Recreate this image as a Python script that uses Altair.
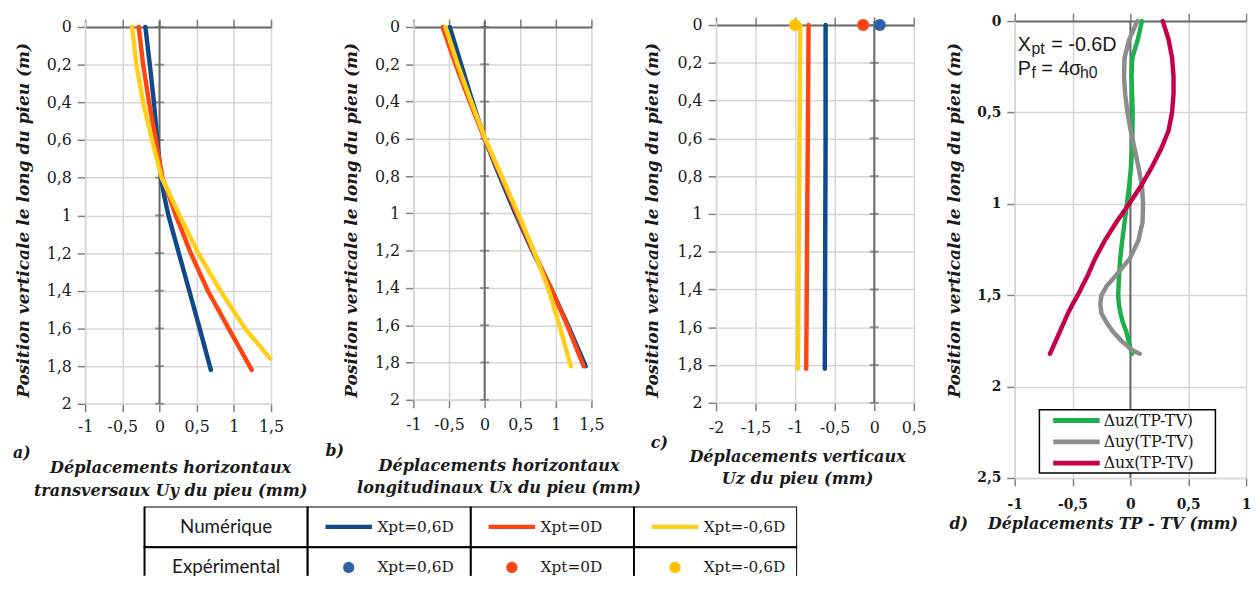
import altair as alt
import pandas as pd

# ---------------- data ----------------
SERIES = ["Xpt=0,6D", "Xpt=0D", "Xpt=-0,6D"]
LINE_COLORS = ["#114a8b", "#ff4612", "#ffcf1a"]
DOT_COLORS = ["#2e62a4", "#ff4612", "#ffc000"]

# a) transverse Uy
a_depth = [0, 0.2, 0.4, 0.6, 0.8, 0.9, 1.0, 1.2, 1.4, 1.6, 1.82]
a_uy_pos = [-0.19, -0.13, -0.075, -0.03, 0.02, 0.065, 0.12, 0.26, 0.40, 0.54, 0.69]
a_uy_zero = [-0.28, -0.22, -0.14, -0.05, 0.04, 0.13, 0.22, 0.42, 0.65, 0.93, 1.24]
a_depth_neg = [0, 0.2, 0.4, 0.6, 0.8, 0.9, 1.0, 1.2, 1.4, 1.6, 1.76]
a_uy_neg = [-0.37, -0.31, -0.22, -0.10, 0.03, 0.15, 0.27, 0.52, 0.82, 1.15, 1.49]

# b) longitudinal Ux
b_depth = [0, 0.2, 0.4, 0.6, 0.8, 1.0, 1.2, 1.4, 1.6, 1.82]
b_ux_pos = [-0.49, -0.33, -0.17, 0.0, 0.21, 0.43, 0.67, 0.93, 1.17, 1.42]
b_ux_zero = [-0.59, -0.41, -0.21, 0.0, 0.23, 0.45, 0.68, 0.93, 1.16, 1.39]
b_ux_neg = [-0.55, -0.38, -0.19, 0.01, 0.24, 0.47, 0.69, 0.89, 1.05, 1.21]

# c) vertical Uz
c_depth = [0, 0.6, 1.2, 1.82]
c_uz_pos = [-0.615, -0.615, -0.62, -0.625]
c_uz_zero = [-0.83, -0.84, -0.85, -0.86]
c_uz_neg = [-0.935, -0.945, -0.955, -0.965]
c_exp_depth = [0, 0, 0]
c_exp_uz = [0.07, -0.14, -1.0]

# d) TP - TV differences
D_SERIES = ["\u0394uz(TP-TV)", "\u0394uy(TP-TV)", "\u0394ux(TP-TV)"]
D_COLORS = ["#1db04a", "#8c8c8c", "#c4004a"]
d_depth = [0, 0.1, 0.2, 0.3, 0.4, 0.5, 0.6, 0.7, 0.8, 0.9, 1.0, 1.1, 1.2, 1.3,
           1.4, 1.45, 1.5, 1.55, 1.6, 1.65, 1.7, 1.75, 1.8, 1.82]
d_duz = [0.10, 0.065, 0.017, 0.01, 0.015, 0.02, 0.018, 0.015, 0.005, -0.01, -0.03, -0.05,
         -0.07, -0.088, -0.098, -0.102, -0.105, -0.10, -0.085, -0.065, -0.035, -0.015, 0.005, 0.015]
d_duy = [0.06, -0.01, -0.05, -0.055, -0.045, -0.025, 0.003, 0.037, 0.07, 0.10, 0.11, 0.105,
         0.07, -0.005, -0.135, -0.205, -0.25, -0.26, -0.25, -0.205, -0.15, -0.077, 0.015, 0.08]
d_dux = [0.28, 0.33, 0.36, 0.373, 0.373, 0.36, 0.33, 0.265, 0.185, 0.094, -0.01, -0.12,
         -0.22, -0.305, -0.375, -0.415, -0.455, -0.50, -0.54, -0.575, -0.61, -0.645, -0.68, -0.695]

# axes ticks
X_TICKS_AB = [-1, -0.5, 0, 0.5, 1, 1.5]
X_TICKS_C = [-2, -1.5, -1, -0.5, 0, 0.5]
X_TICKS_D = [-1, -0.5, 0, 0.5, 1]
Y_TICKS_ABC = [0, 0.2, 0.4, 0.6, 0.8, 1, 1.2, 1.4, 1.6, 1.8, 2]
Y_TICKS_D = [0, 0.5, 1, 1.5, 2, 2.5]

YTITLE = "Position verticale le long du pieu (m)"
TABLE_ROWS = ["Num\u00e9rique", "Exp\u00e9rimental"]

# ---------------- style ----------------
SERIF = "DejaVu Serif"
SANS = "Liberation Sans"
INK = "#1a1a1a"
GRID = "#d6d6d6"
TICK = "#7f7f7f"
DARK = "#6a6a6a"
XT_SIZE = 16.3
YT_SIZE = 17.2
LBL = "replace(replace(datum.label, '.', ','), '\u2212', '-')"


def long_df(depths, values, names):
    rows = []
    for dep, val, name in zip(depths, values, names):
        for z, u in zip(dep, val):
            rows.append({"z": z, "u": u, "serie": name})
    return pd.DataFrame(rows)


def one():
    return pd.DataFrame({"k": [0]})


def text_at(s, x, y, size=16, font=SERIF, weight="bold", style="italic", align="left"):
    return alt.Chart(one()).mark_text(
        text=s, align=align, baseline="middle", font=font, fontSize=size,
        fontWeight=weight, fontStyle=style, color=INK
    ).encode(x=alt.value(x), y=alt.value(y))


def panel(df, xdom, xvals, ydom, yvals, w, h, xtitle, xtitle_x, xtitle_y, ytitle_x, ytitle_y,
          label, label_x, label_y, colors, domain, zero_ticks=True, bold=False,
          xtsize=XT_SIZE, lab_pad=9, top_offset=0, extra=None):
    xs = alt.Scale(domain=xdom, nice=False, zero=False)
    ys = alt.Scale(domain=ydom, nice=False, zero=False, reverse=True)
    lw = "bold" if bold else "normal"
    ls = 14 if bold else 16
    xaxis = alt.Axis(
        orient="bottom", values=xvals, format=".1~f", labelExpr=LBL, grid=True,
        gridColor=GRID, gridWidth=1.5, domainColor=GRID, domainWidth=1.5, tickColor=TICK,
        tickWidth=1.5, tickSize=8, labelPadding=lab_pad, labelFont=SERIF, labelFontSize=ls,
        labelFontWeight=lw, labelColor=INK, labelFlush=False, labelOverlap=False,
        title=xtitle, titleFont=SERIF, titleFontSize=xtsize, titleFontWeight="bold",
        titleFontStyle="italic", titleColor=INK, titleX=xtitle_x, titleY=xtitle_y,
        titleBaseline="top", titleAlign="center", titleLineHeight=23)
    yaxis = alt.Axis(
        orient="left", values=yvals, format=".1~f", labelExpr=LBL, grid=True,
        gridColor=GRID, gridWidth=1.5, domainColor=GRID, domainWidth=1.5, tickColor=TICK,
        tickWidth=1.5, tickSize=8, labelPadding=6, labelFont=SERIF, labelFontSize=ls,
        labelFontWeight=lw, labelColor=INK, labelFlush=False, labelOverlap=False,
        title=YTITLE, titleFont=SERIF, titleFontSize=YT_SIZE, titleFontWeight="bold",
        titleFontStyle="italic", titleColor=INK, titleX=ytitle_x, titleY=ytitle_y,
        titleBaseline="bottom", titleAlign="center")
    layers = []
    zero = alt.Chart(pd.DataFrame({"u": [0]})).mark_rule(color=DARK, strokeWidth=2).encode(
        x=alt.X("u:Q", scale=xs, axis=None))
    layers.append(zero)
    if zero_ticks:
        zt = alt.Chart(pd.DataFrame({"z": yvals, "u": [0] * len(yvals)})).mark_tick(
            orient="horizontal", size=9, thickness=2, color=DARK).encode(
            x=alt.X("u:Q", scale=xs, axis=None), y=alt.Y("z:Q", scale=ys, axis=None))
        layers.append(zt)
    lines = alt.Chart(df).mark_line(strokeWidth=4.5, strokeCap="round").encode(
        x=alt.X("u:Q", scale=xs, axis=xaxis),
        y=alt.Y("z:Q", scale=ys, axis=yaxis),
        color=alt.Color("serie:N", scale=alt.Scale(domain=domain, range=colors), legend=None),
        order="z:Q")
    layers.append(lines)
    top = alt.Chart(pd.DataFrame({"u": xvals})).mark_point(opacity=0).encode(
        x=alt.X("u:Q", scale=xs, axis=alt.Axis(
            orient="top", values=xvals, labels=False, grid=False, domainColor=DARK,
            domainWidth=2, tickColor=TICK, tickWidth=1.5, tickSize=8, title=None,
            offset=top_offset)))
    layers.append(top)
    if extra:
        for e in extra:
            layers.append(e(xs, ys))
    layers.append(text_at(label, label_x, label_y))
    return alt.layer(*layers).resolve_axis(x="independent", y="independent").resolve_scale(
        color="independent").properties(width=w, height=h)


# ---------- panels ----------
df_a = long_df([a_depth, a_depth, a_depth_neg], [a_uy_pos, a_uy_zero, a_uy_neg], SERIES)
df_b = long_df([b_depth] * 3, [b_ux_pos, b_ux_zero, b_ux_neg], SERIES)
df_c = long_df([c_depth] * 3, [c_uz_pos, c_uz_zero, c_uz_neg], SERIES)
df_cexp = pd.DataFrame({"z": c_exp_depth, "u": c_exp_uz, "serie": SERIES})
df_d = long_df([d_depth] * 3, [d_duz, d_duy, d_dux], D_SERIES)

A_W, A_H = 188, 387
B_W, B_H = 180, 383
C_W, C_H = 200, 386
D_W, D_H = 234, 462

pa = panel(df_a, [-1, 1.5], X_TICKS_AB, [-0.0315, 2], Y_TICKS_ABC, A_W, A_H,
           ["D\u00e9placements horizontaux", "transversaux Uy du pieu (mm)"], 86, 57, -53, 201,
           "a)", -73, 437, LINE_COLORS, SERIES, lab_pad=7, top_offset=-6)
pb = panel(df_b, [-1, 1.5], X_TICKS_AB, [-0.0318, 2], Y_TICKS_ABC, B_W, B_H,
           ["D\u00e9placements horizontaux", "longitudinaux Ux du pieu (mm)"], 86, 58, -54, 201,
           "b)", -89, 435, LINE_COLORS, SERIES, top_offset=-6)


def c_points(xs, ys):
    return alt.Chart(df_cexp).mark_circle(size=150, opacity=1).encode(
        x=alt.X("u:Q", scale=xs, axis=None), y=alt.Y("z:Q", scale=ys, axis=None),
        color=alt.Color("serie:N", scale=alt.Scale(domain=SERIES, range=DOT_COLORS), legend=None))


pc = panel(df_c, [-2, 0.5], X_TICKS_C, [-0.021, 2], Y_TICKS_ABC, C_W, C_H,
           ["D\u00e9placements verticaux", "Uz du pieu (mm)"], 82, 46, -55, 201,
           "c)", -66, 427, LINE_COLORS, SERIES, top_offset=-4, extra=[c_points])


def d_legend_box(xs, ys):
    return alt.Chart(one()).mark_rect(fill="white", stroke="black", strokeWidth=1.5).encode(
        x=alt.value(25), x2=alt.value(203), y=alt.value(393), y2=alt.value(457))


def d_legend_items(i):
    def f(xs, ys):
        ln = alt.Chart(one()).mark_rule(color=D_COLORS[i], strokeWidth=5).encode(
            x=alt.value(39), x2=alt.value(86), y=alt.value(404 + 21.5 * i))
        tx = alt.Chart(one()).mark_text(
            text=D_SERIES[i], align="left", baseline="middle", font=SERIF, fontSize=16,
            color=INK).encode(x=alt.value(90), y=alt.value(404 + 21.5 * i))
        return alt.layer(ln, tx)
    return f


def d_annot(xs, ys):
    kw = dict(font=SANS, weight="normal", style="normal")
    parts = [
        text_at("X", 3, 24, size=20, **kw),
        text_at("pt", 17, 28, size=16, **kw),
        text_at("= -0.6D", 37, 24, size=20, **kw),
        text_at("P", 3, 49, size=20, **kw),
        text_at("f", 17, 53, size=16, **kw),
        text_at("= 4", 27, 49, size=20, **kw),
        text_at("\u03c3", 55, 49, size=20, **kw),
        text_at("h0", 66, 53, size=16, **kw),
    ]
    return alt.layer(*parts)


pd_ = panel(df_d, [-1, 1], X_TICKS_D, [0, 2.5], Y_TICKS_D, D_W, D_H,
            "D\u00e9placements TP - TV (mm)", 99, 38, -52, 201,
            "d)", -66, 509, D_COLORS, D_SERIES, zero_ticks=False, bold=True,
            xtsize=16, lab_pad=12,
            extra=[d_legend_box, d_legend_items(0), d_legend_items(1), d_legend_items(2), d_annot])


def spacer(w):
    return alt.Chart(one()).mark_point(opacity=0).encode(
        x=alt.value(0), y=alt.value(0)).properties(width=w, height=10)


row = alt.hconcat(pa, spacer(144), pb, spacer(126), pc, spacer(102), pd_,
                  spacing=0, bounds="flush")

# ---------- table legend ----------
cells = pd.DataFrame([{"c0": c, "c1": c + 1, "r0": r, "r1": r + 1}
                      for r in range(2) for c in range(4)])
row_heads = pd.DataFrame({"t": TABLE_ROWS, "cx": [0.5, 0.5], "ry": [0.5, 1.5]})
entries = pd.DataFrame({"serie": SERIES, "cx": [1.5, 2.5, 3.5]})

txs = alt.Scale(domain=[-0.364, 4], nice=False, zero=False)
tys = alt.Scale(domain=[0, 1.707], nice=False, zero=False, reverse=True)

t_rect = alt.Chart(cells).mark_rect(fill="white", stroke="black", strokeWidth=2, clip=True).encode(
    x=alt.X("c0:Q", scale=txs, axis=None), x2="c1:Q",
    y=alt.Y("r0:Q", scale=tys, axis=None), y2="r1:Q")
t_heads = alt.Chart(row_heads).mark_text(font="Lato", fontSize=19, color=INK).encode(
    x=alt.X("cx:Q", scale=txs, axis=None), y=alt.Y("ry:Q", scale=tys, axis=None), text="t:N")
t_lines = alt.Chart(entries).transform_calculate(ry="0.5").mark_point(
    shape="stroke", size=2209, strokeWidth=4.5, filled=False, opacity=1, xOffset=-41).encode(
    x=alt.X("cx:Q", scale=txs, axis=None), y=alt.Y("ry:Q", scale=tys, axis=None),
    color=alt.Color("serie:N", scale=alt.Scale(domain=SERIES, range=LINE_COLORS), legend=None))
t_dots = alt.Chart(entries).transform_calculate(ry="1.5").mark_circle(
    size=130, opacity=1, xOffset=-41).encode(
    x=alt.X("cx:Q", scale=txs, axis=None), y=alt.Y("ry:Q", scale=tys, axis=None),
    fill=alt.Fill("serie:N", scale=alt.Scale(domain=SERIES, range=DOT_COLORS), legend=None))
t_lab1 = alt.Chart(entries).transform_calculate(ry="0.5").mark_text(
    align="left", dx=-12, font=SERIF, fontSize=15.5, color=INK).encode(
    x=alt.X("cx:Q", scale=txs, axis=None), y=alt.Y("ry:Q", scale=tys, axis=None), text="serie:N")
t_lab2 = alt.Chart(entries).transform_calculate(ry="1.5").mark_text(
    align="left", dx=-12, font=SERIF, fontSize=15.5, color=INK).encode(
    x=alt.X("cx:Q", scale=txs, axis=None), y=alt.Y("ry:Q", scale=tys, axis=None), text="serie:N")

table = alt.layer(t_rect, t_heads, t_lines, t_dots, t_lab1, t_lab2).resolve_scale(
    color="independent").properties(width=720, height=70)

chart = alt.vconcat(row, table, spacing=491, bounds="flush").configure_view(
    stroke="transparent").properties(
    padding={"left": 4, "top": 0, "right": 0, "bottom": 0})

chart.save("out.html", embed_options={"renderer": "svg", "actions": False})
